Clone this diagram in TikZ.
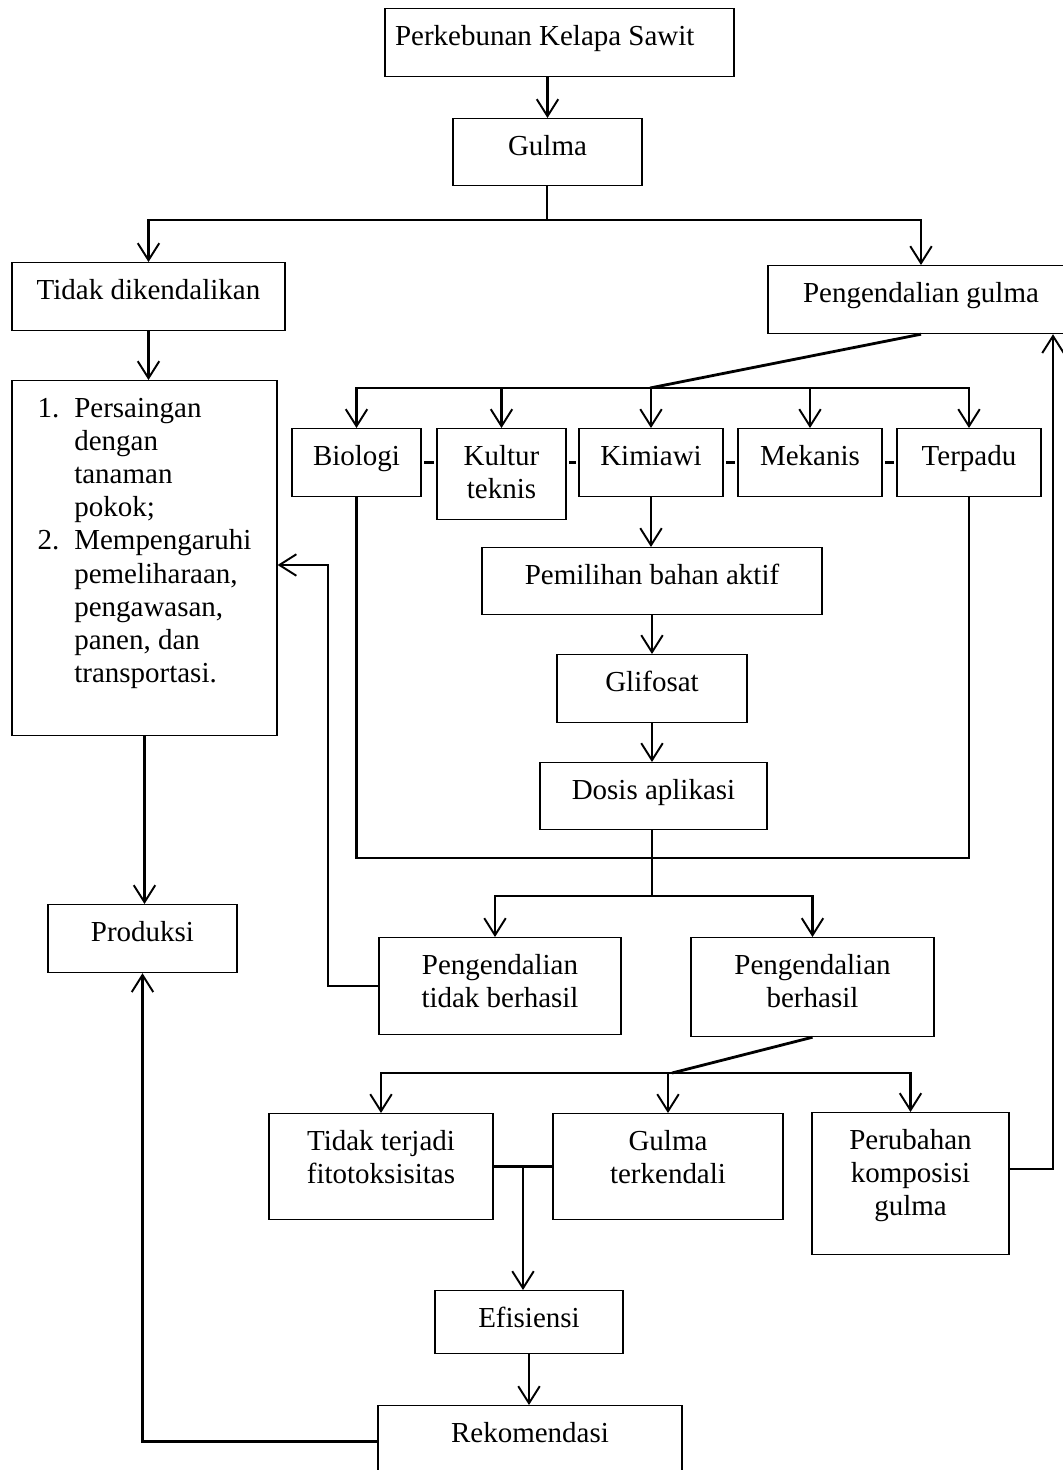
\documentclass[tikz,border=0pt]{standalone}
\usepackage{fontspec}
\setmainfont{Liberation Serif}
\usetikzlibrary{arrows.meta}

% text box: width, height, text hanging from the top
\newcommand{\boxtxt}[3]{\parbox[c][#2][t]{#1}{\centering\rule{0pt}{21pt}#3}}

\begin{document}
\begin{tikzpicture}[
    x=0.02cm, y=-0.02cm,
    box/.style={rectangle, draw=black, line width=0.7pt, inner sep=0pt, anchor=north, font=\fontsize{16.5}{18.85}\selectfont},
    conn/.style={line width=1.6pt},
    link/.style={line width=1.6pt, shorten <=0.5mm, shorten >=0.5mm},
    arrow/.style={line width=1.5pt, -{Straight Barb[length=3.4mm, width=4.3mm, line width=1.1pt]}}
]
\useasboundingbox (0,0) rectangle (1062,1470);

\node[box] (kebun) at (559.5,8) {\boxtxt{6.98cm}{1.36cm}{\raggedright\hspace*{0.2cm}Perkebunan Kelapa Sawit}};
\node[box] (gulma) at (547.5,118) {\boxtxt{3.78cm}{1.34cm}{Gulma}};
\node[box] (tidak) at (148.5,262) {\boxtxt{5.46cm}{1.36cm}{Tidak dikendalikan}};
\node[box] (pg) at (921,265) {\boxtxt{6.12cm}{1.36cm}{Pengendalian gulma}};
\node[box] (list) at (144.5,380) {\boxtxt{5.3cm}{7.1cm}{\begin{tabular}[t]{@{}l@{\hspace{0.3cm}}l@{}}
    1. & Persaingan\\ & dengan\\ & tanaman\\ & pokok;\\
    2. & Mempengaruhi\\ & pemeliharaan,\\ & pengawasan,\\ & panen, dan\\ & transportasi.
  \end{tabular}}};

\node[box] (bio) at (356.5,428) {\boxtxt{2.58cm}{1.36cm}{Biologi}};
\node[box] (kul) at (501.5,428) {\boxtxt{2.58cm}{1.82cm}{Kultur\\teknis}};
\node[box] (kim) at (651,428) {\boxtxt{2.88cm}{1.36cm}{Kimiawi}};
\node[box] (mek) at (810,428) {\boxtxt{2.88cm}{1.36cm}{Mekanis}};
\node[box] (ter) at (969,428) {\boxtxt{2.88cm}{1.36cm}{Terpadu}};

\node[box] (pem) at (652,547) {\boxtxt{6.8cm}{1.34cm}{Pemilihan bahan aktif}};
\node[box] (gli) at (652,654) {\boxtxt{3.8cm}{1.36cm}{Glifosat}};
\node[box] (dos) at (653.5,762) {\boxtxt{4.54cm}{1.34cm}{Dosis aplikasi}};

\node[box] (prod) at (142.5,904) {\boxtxt{3.78cm}{1.36cm}{Produksi}};
\node[box] (gagal) at (500,937) {\boxtxt{4.84cm}{1.94cm}{Pengendalian\\tidak berhasil}};
\node[box] (hasil) at (812.5,937) {\boxtxt{4.86cm}{1.98cm}{Pengendalian\\berhasil}};

\node[box] (fito) at (381,1113) {\boxtxt{4.48cm}{2.12cm}{Tidak terjadi\\fitotoksisitas}};
\node[box] (tk) at (668,1113) {\boxtxt{4.6cm}{2.12cm}{Gulma\\terkendali}};
\node[box] (per) at (910.5,1112) {\boxtxt{3.94cm}{2.84cm}{Perubahan\\komposisi\\gulma}};
\node[box] (efi) at (529,1290) {\boxtxt{3.76cm}{1.26cm}{Efisiensi}};
\node[box] (rek) at (530,1405) {\boxtxt{6.08cm}{1.44cm}{Rekomendasi}};

% split points
\coordinate (gsplit) at (547,220);
\coordinate (msplit) at (650,388);
\coordinate (join) at (652,858);
\coordinate (split) at (652,896);
\coordinate (back) at (328,565);
\coordinate (hsplit) at (672,1073);
\coordinate (esplit) at (523,1166);
\coordinate (rt) at (1053,1169);

% Arrows
\draw[arrow] (gulma.north |- kebun.south) -- (gulma.north);
\draw[conn] (gsplit |- gulma.south) -- (gsplit);
\draw[arrow] (gsplit) -| (tidak.north);
\draw[arrow] (gsplit) -| (pg.north);
\draw[arrow] (tidak.south) -- (tidak.south |- list.north);
\draw[arrow] (list.south) -- (list.south |- prod.north);

\draw[conn] (pg.south) -- (msplit);
\draw[arrow] (msplit) -| (bio.north);
\draw[arrow] (msplit) -| (ter.north);
\foreach \n in {kul,kim,mek}
  \draw[arrow] (msplit -| \n.north) -- (\n.north);
\foreach \a/\b in {bio/kul,kul/kim,kim/mek,mek/ter}
  \draw[link] (\a.east |- bio.east) -- (\b.west |- bio.east);

\draw[arrow] (kim.south) -- (kim.south |- pem.north);
\draw[arrow] (pem.south) -- (pem.south |- gli.north);
\draw[arrow] (gli.south) -- (gli.south |- dos.north);
\draw[conn] (bio.south) |- (join) -| (ter.south);
\draw[conn] (join |- dos.south) -- (split);
\draw[arrow] (split) -| ([xshift=-0.1cm]gagal.north);
\draw[arrow] (split) -| (hasil.north);
\draw[arrow] (gagal.west) -| (back) -- (back -| list.east);

\draw[conn] (hasil.south) -- (hsplit);
\draw[arrow] (hsplit) -| (fito.north);
\draw[arrow] (hsplit) -| (per.north);
\draw[arrow] (hsplit -| tk.north) -- (tk.north);
\draw[conn] (fito.east) -- (tk.west);
\draw[arrow] (esplit) -- (esplit |- efi.north);
\draw[arrow] (efi.south) -- (efi.south |- rek.north);
\draw[arrow] (rek.west) -| (prod.south);
\draw[arrow] (rt -| per.east) -- (rt) -- (rt |- pg.south);

\end{tikzpicture}
\end{document}
